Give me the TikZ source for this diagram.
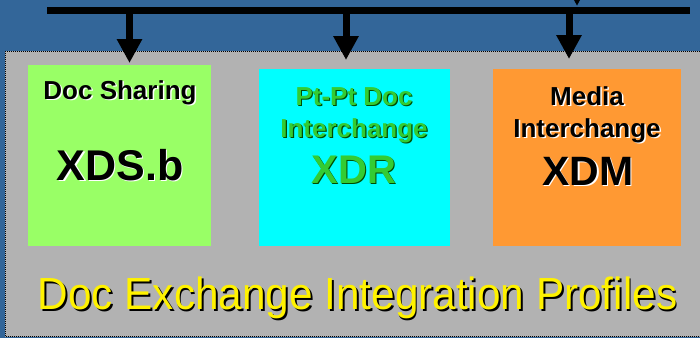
\documentclass[tikz,border=0pt]{standalone}
\usepackage{fontspec}
\setmainfont{Liberation Sans}
\usetikzlibrary{arrows.meta}
\definecolor{slideblue}{HTML}{336699}
\definecolor{panelgray}{HTML}{B2B2B2}
\definecolor{xdsgreen}{HTML}{99FF66}
\definecolor{xdrcyan}{HTML}{00FFFF}
\definecolor{xdmorange}{HTML}{FF9933}
\definecolor{xdrtext}{HTML}{33CC33}
% text with a drop shadow: [offset]{shadow colour}{text}
\newcommand{\shadowed}[3][1.5pt]{\leavevmode\rlap{\kern#1\raisebox{-#1}{\color{#2}#3}}#3}

\begin{document}
\begin{tikzpicture}[
  x=1pt, y=-1pt,
  profbox/.style={anchor=north west, inner sep=0pt, draw=none},
  smalllbl/.style={anchor=base, inner sep=0pt, font=\bfseries\fontsize{26}{30}\selectfont},
  biglbl/.style={anchor=base, inner sep=0pt, font=\bfseries\fontsize{#1}{48}\selectfont},
  tap/.style={line width=7pt, -{Triangle[width=24pt, length=24pt]}}
]
  \useasboundingbox (0,0) rectangle (700,338);
  \clip (0,0) rectangle (700,338);
  \fill[slideblue] (0,0) rectangle (700,338);

  % panel of the profiles
  \draw[black, densely dotted, line width=1pt, fill=panelgray] (5,51) rectangle (706,336.5);

  % the three profiles
  \node[profbox, fill=xdsgreen, minimum width=183pt, minimum height=181pt] (xds) at (28,65) {};
  \node[profbox, fill=xdrcyan, minimum width=191pt, minimum height=177pt] (xdr) at (259,69) {};
  \node[profbox, fill=xdmorange, minimum width=188pt, minimum height=177pt] (xdm) at (493,69) {};

  \node[smalllbl] (xdsname) at (120,99) {\shadowed{white}{Doc Sharing}};
  \node[biglbl=43] (xdsid) at (120,180) {\shadowed{white}{XDS.b}};

  \node[smalllbl, text=xdrtext] (xdrname1) at (354,105) {\shadowed[1.2pt]{black!70!green}{Pt-Pt Doc}};
  \node[smalllbl, text=xdrtext] (xdrname2) at (354,137) {\shadowed[1.2pt]{black!70!green}{Interchange}};
  \node[biglbl=40, text=xdrtext] (xdrid) at (354,183) {\shadowed[1.2pt]{black!70!green}{XDR}};

  \node[smalllbl] (xdmname1) at (587,105) {\shadowed{white}{Media}};
  \node[smalllbl] (xdmname2) at (587,137) {\shadowed{white}{Interchange}};
  \node[biglbl=41] (xdmid) at (588,185) {\shadowed{white}{XDM}};

  \node[anchor=base, inner sep=0pt, text=yellow, font=\fontsize{45}{54}\selectfont] (title) at (357.5,309)
    {\scalebox{0.94}[1]{\shadowed[2pt]{black}{Doc Exchange Integration Profiles}}};

  % bus and taps
  \coordinate (busL) at (47,10.5);
  \coordinate (busR) at (690,10.5);
  \coordinate (tapA) at (129.5,10.5);
  \coordinate (tapB) at (346,10.5);
  \coordinate (tapC) at (569,10.5);
  \coordinate (feed) at (577,-40);
  \coordinate (feedEnd) at (577,6);
  \draw[line width=7pt] (busL) -- (busR);
  \draw[tap] (feed) -- (feedEnd);
  \draw[tap, shorten >=2pt] (tapA) -- (tapA |- xds.north);
  \draw[tap, shorten >=9pt] (tapB) -- (tapB |- xdr.north);
  \draw[tap, shorten >=10pt] (tapC) -- (tapC |- xdm.north);
\end{tikzpicture}
\end{document}
